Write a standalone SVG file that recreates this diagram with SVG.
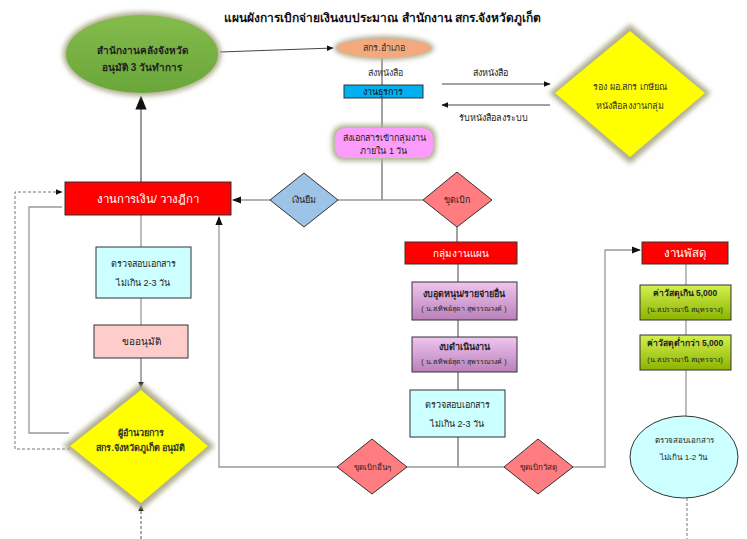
<svg xmlns="http://www.w3.org/2000/svg" width="747" height="539" viewBox="0 0 747 539">
<defs>
<style>
text{font-family:"Liberation Sans","Noto Sans","DejaVu Sans",sans-serif;font-size:9px;text-anchor:middle;fill:#222}
.t{font-size:12px;fill:#111;font-weight:bold}
.b{font-weight:bold}
.w{fill:#fff;font-size:11.5px}
.s{font-size:7px}
.ln{stroke:#999;stroke-width:1.3;fill:none}
.lk{stroke:#444;stroke-width:1;fill:none}
.ds{stroke:#777;stroke-width:1;fill:none;stroke-dasharray:3,2}
.bd{stroke:#333;stroke-width:1}
.glow{fill:#b0ae90;filter:url(#bl)}
</style>
<filter id="bl" x="-20%" y="-20%" width="140%" height="140%"><feGaussianBlur stdDeviation="2.5"/></filter>
<marker id="ar" viewBox="0 0 10 10" refX="9" refY="5" markerWidth="7" markerHeight="7" orient="auto-start-reverse"><path d="M0,1 L10,5 L0,9 z" fill="#111"/></marker>
<linearGradient id="gp" x1="0" y1="0" x2="0" y2="1"><stop offset="0" stop-color="#f0c4f0"/><stop offset="1" stop-color="#b982b9"/></linearGradient>
<linearGradient id="gg" x1="0" y1="0" x2="0" y2="1"><stop offset="0" stop-color="#d4f050"/><stop offset="1" stop-color="#8cb400"/></linearGradient>
<linearGradient id="ge" x1="0" y1="0" x2="0" y2="1"><stop offset="0" stop-color="#84bb4c"/><stop offset="1" stop-color="#6aa63a"/></linearGradient>
</defs>
<rect width="747" height="539" fill="#fff"/>
<text class="t" x="383" y="22">แผนผังการเบิกจ่ายเงินงบประมาณ สำนักงาน สกร.จังหวัดภูเก็ต</text>

<g id="connectors">
<line class="lk" x1="220" y1="52" x2="333" y2="48" marker-end="url(#ar)"/>
<line class="lk" x1="382" y1="58" x2="382" y2="200"/>
<line class="lk" x1="442" y1="84" x2="550" y2="84" marker-end="url(#ar)"/>
<line class="lk" x1="550" y1="105" x2="442" y2="105" marker-end="url(#ar)"/>
<line class="ln" x1="270" y1="200" x2="233" y2="200" marker-end="url(#ar)"/>
<line class="ln" x1="338" y1="200" x2="423" y2="200"/>
<line class="lk" x1="457" y1="227" x2="457" y2="242"/>
<line class="lk" x1="458" y1="264" x2="458" y2="282"/>
<line class="lk" x1="458" y1="320" x2="458" y2="337"/>
<line class="lk" x1="458" y1="372" x2="458" y2="390"/>
<line class="lk" x1="458" y1="437" x2="458" y2="467"/>
<line class="ln" x1="407" y1="467" x2="504" y2="467"/>
<polyline class="ln" points="337,467 219,467 219,217" marker-end="url(#ar)"/>
<polyline class="ln" points="573,467 605,467 605,250 640,250" marker-end="url(#ar)"/>
<line class="ln" x1="686" y1="264" x2="686" y2="285"/>
<line class="ln" x1="686" y1="320" x2="686" y2="335"/>
<line class="ln" x1="686" y1="370" x2="686" y2="416"/>
<line class="ds" x1="687" y1="498" x2="687" y2="539"/>
<line class="ln" x1="141" y1="182" x2="141" y2="97" marker-end="url(#ar)" style="stroke-width:2"/>
<line class="ln" x1="141" y1="215" x2="141" y2="247"/>
<line class="ln" x1="141" y1="298" x2="141" y2="325"/>
<line class="lk" x1="141" y1="358" x2="141" y2="388" marker-end="url(#ar)" style="stroke:#555"/>
<line class="ds" x1="141" y1="539" x2="141" y2="505" marker-end="url(#ar)" style="stroke:#555"/>
<polyline class="ln" points="69,433 29,433 29,207 62,207"/>
<polyline class="ds" points="70,449 15,449 15,192 62,192" marker-end="url(#ar)"/>
</g>

<g id="n-klang">
<ellipse class="glow" cx="142" cy="54" rx="79" ry="42"/>
<ellipse cx="142" cy="54" rx="76" ry="39" fill="url(#ge)"/>
<text class="b" x="142" y="54" style="font-size:10px">สำนักงานคลังจังหวัด</text>
<text class="b" x="142" y="71" style="font-size:10px">อนุมัติ 3 วันทำการ</text>
</g>

<g id="n-amphoe">
<ellipse class="glow" cx="384" cy="48" rx="50" ry="12"/>
<ellipse cx="384" cy="48" rx="47" ry="9.5" fill="#f4a97c"/>
<text x="384" y="51" style="fill:#333">สกร.อำเภอ</text>
</g>
<text x="385" y="76" style="fill:#333">ส่งหนังสือ</text>

<g id="n-thurakan">
<rect class="bd" x="344" y="85" width="79" height="13" fill="#00b0f0"/>
<text x="383" y="95" style="fill:#111">งานธุรการ</text>
</g>
<text x="490" y="76">ส่งหนังสือ</text>
<text x="493" y="121">รับหนังสือลงระบบ</text>

<g id="n-deputy">
<polygon class="glow" points="630,24 711,93 630,164 549,93"/>
<polygon points="630,31 705,93 630,157 555,93" fill="#ffff00"/>
<text x="630" y="90" style="fill:#333">รอง ผอ.สกร เกษียณ</text>
<text x="630" y="109" style="fill:#333">หนังสือลงงานกลุ่ม</text>
</g>

<g id="n-send">
<rect class="glow" x="332" y="125" width="104" height="36" rx="12"/>
<rect x="335" y="128" width="98" height="30" rx="10" fill="#fc9cfc"/>
<text x="384" y="141">ส่งเอกสารเข้ากลุ่มงาน</text>
<text x="384" y="154">ภายใน 1 วัน</text>
</g>

<g id="n-finance">
<rect class="bd" x="65" y="182" width="166" height="33" fill="#ff0000"/>
<text class="w" x="148" y="203">งานการเงิน/ วางฎีกา</text>
</g>

<g id="n-loan">
<polygon class="bd" points="304,173 338,200 304,227 270,200" fill="#9dc3e6"/>
<text x="304" y="203">เงินยืม</text>
</g>

<g id="n-withdraw">
<polygon class="bd" points="457,172 492,200 457,227 423,200" fill="#ff7c80"/>
<text x="457" y="203" style="fill:#222">ขุดเบิก</text>
</g>

<g id="n-plan">
<rect class="bd" x="405" y="242" width="112" height="22" fill="#ff0000"/>
<text class="w" x="461" y="257" style="font-size:10px">กลุ่มงานแผน</text>
</g>

<g id="n-budget1">
<rect class="bd" x="412" y="282" width="105" height="38" fill="url(#gp)"/>
<text class="b" x="464" y="297">งบอุดหนุน/รายจ่ายอื่น</text>
<text class="s" x="464" y="311">( น.ส.ทิพย์สุดา สุพรรณวงค์ )</text>
</g>

<g id="n-budget2">
<rect class="bd" x="412" y="337" width="105" height="35" fill="url(#gp)"/>
<text class="b" x="464" y="350">งบดำเนินงาน</text>
<text class="s" x="464" y="364">( น.ส.ทิพย์สุดา สุพรรณวงค์ )</text>
</g>

<g id="n-check2">
<rect class="bd" x="410" y="390" width="95" height="47" fill="#ccffff"/>
<text x="457" y="408">ตรวจสอบเอกสาร</text>
<text x="457" y="427">ไม่เกิน 2-3 วัน</text>
</g>

<g id="n-other">
<polygon class="bd" points="372,439 407,467 372,494 337,467" fill="#ff7c80"/>
<text x="372" y="470" style="font-size:8px">ขุดเบิกอื่นๆ</text>
</g>

<g id="n-material">
<polygon class="bd" points="538,439 573,467 538,494 504,467" fill="#ff7c80"/>
<text x="538" y="470" style="font-size:8px">ขุดเบิกวัสดุ</text>
</g>

<g id="n-supply">
<rect class="bd" x="642" y="242" width="86" height="22" fill="#ff0000"/>
<text class="w" x="685" y="257">งานพัสดุ</text>
</g>

<g id="n-mat1">
<rect class="bd" x="640" y="285" width="91" height="35" fill="url(#gg)"/>
<text class="b" x="685" y="296" style="font-size:8.5px">ค่าวัสดุเกิน 5,000</text>
<text class="s" x="685" y="312">(น.ส.ปราณานี สมุทรจาง)</text>
</g>

<g id="n-mat2">
<rect class="bd" x="640" y="335" width="91" height="35" fill="url(#gg)"/>
<text class="b" x="685" y="346" style="font-size:8.5px">ค่าวัสดุต่ำกว่า 5,000</text>
<text class="s" x="685" y="362">(น.ส.ปราณานี สมุทรจาง)</text>
</g>

<g id="n-check3">
<ellipse class="bd" cx="684" cy="457" rx="54" ry="41" fill="#ccffff"/>
<text x="684" y="443" style="font-size:8px">ตรวจสอบเอกสาร</text>
<text x="684" y="460" style="font-size:8px">ไม่เกิน 1-2 วัน</text>
</g>

<g id="n-check1">
<rect class="bd" x="96" y="247" width="95" height="51" fill="#ccffff"/>
<text x="143" y="267">ตรวจสอบเอกสาร</text>
<text x="143" y="286">ไม่เกิน 2-3 วัน</text>
</g>

<g id="n-request">
<rect class="bd" x="94" y="325" width="94" height="33" fill="#ffcccc"/>
<text x="141" y="345" style="font-size:10px">ขออนุมัติ</text>
</g>

<g id="n-director">
<polygon class="glow" points="141,383 215,446 141,510 63,446"/>
<polygon points="141,390 208,446 141,503 70,446" fill="#ffff00"/>
<text class="b" x="141" y="436" style="fill:#333">ผู้อำนวยการ</text>
<text class="b" x="141" y="451" style="fill:#333">สกร.จังหวัดภูเก็ต อนุมัติ</text>
</g>
</svg>
